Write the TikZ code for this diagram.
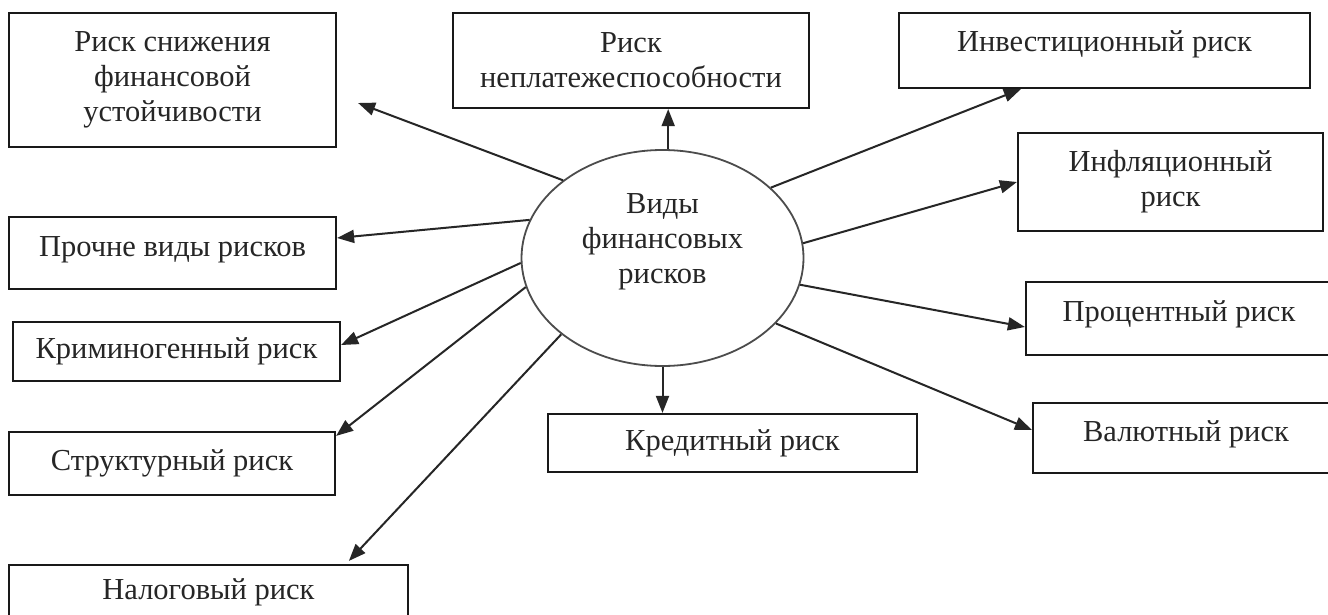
\documentclass[tikz,border=0pt]{standalone}
\usepackage{fontspec}
\setmainfont{Liberation Serif}
\usetikzlibrary{shapes.geometric,arrows.meta,calc}
\tikzset{
  riskbox/.style={draw=black!90, line width=2.2pt, rectangle, inner sep=0pt, align=center,
    font=\fontsize{30.5}{35}\selectfont, text=black!85},
  centre/.style={draw=black!70, line width=1.8pt, ellipse, inner sep=0pt,
    minimum width=282pt, minimum height=216pt},
  ctext/.style={align=center, inner sep=0pt, font=\fontsize{30.5}{35}\selectfont, text=black!85},
  link/.style={line width=2pt, draw=black!85, -{Triangle[length=17pt,width=13pt]}}
}
\begin{document}
\begin{tikzpicture}[x=1pt,y=-1pt]
\useasboundingbox (0,0) rectangle (1328,615);
\fill[white] (0,0) rectangle (1328,615);
% boxes
\node[riskbox, minimum width=327pt, minimum height=134pt] (b1) at (172.5,80) {Риск снижения\\финансовой\\устойчивости};
\node[riskbox, minimum width=356pt, minimum height=95pt] (b2) at (631,60.5) {Риск\\неплатежеспособности};
\node[riskbox, minimum width=411pt, minimum height=75pt, text depth=18pt] (b3) at (1104.5,50.5) {Инвестиционный риск};
\node[riskbox, minimum width=305pt, minimum height=98pt] (b4) at (1170.5,182) {Инфляционный\\риск};
\node[riskbox, minimum width=306pt, minimum height=73pt, text depth=14pt] (b5) at (1179,318.5) {Процентный риск};
\node[riskbox, minimum width=306pt, minimum height=70pt, text depth=14pt] (b6) at (1186,438) {Валютный риск};
\node[riskbox, minimum width=369pt, minimum height=58pt] (b7) at (732.5,443) {Кредитный риск};
\node[riskbox, minimum width=327pt, minimum height=72pt, text depth=12pt] (b8) at (172.5,253) {Прочне виды рисков};
\node[riskbox, minimum width=327pt, minimum height=59pt] (b9) at (176.5,351.5) {Криминогенный риск};
\node[riskbox, minimum width=326pt, minimum height=63pt] (b10) at (172,463.5) {Структурный риск};
\node[riskbox, minimum width=399pt, minimum height=54pt] (b11) at (208.5,592) {Налоговый риск};
% centre
\node[centre] (e) at (662.5,258) {};
\node[ctext] (et) at (662.5,242) {Виды\\финансовых\\рисков};
% connectors
\draw[link] (e.142.8) -- ($(b1.east)+(21,23)$);
\draw[link] (e.87) -- (e.87 |- b2.south);
\draw[link] (e.33.3) -- ($(b3.south west)+(123,0)$);
\draw[link] (e.6.1) -- (b4.west);
\draw[link] (e.349.5) -- ($(b5.west)+(0,8.5)$);
\draw[link] (e.330.7) -- ($(b6.west)+(0,-8)$);
\draw[link] (e.south) -- (e.south |- b7.north);
\draw[link] (e.164.3) -- ($(b8.east)+(0,-15)$);
\draw[link] (e.182) -- ($(b9.east)+(0,-6.5)$);
\draw[link] (e.192.8) -- ($(b10.north east)+(0,5)$);
\draw[link] (e.217.3) -- ($(b11.north west)+(341,-3)$);
\end{tikzpicture}
\end{document}
